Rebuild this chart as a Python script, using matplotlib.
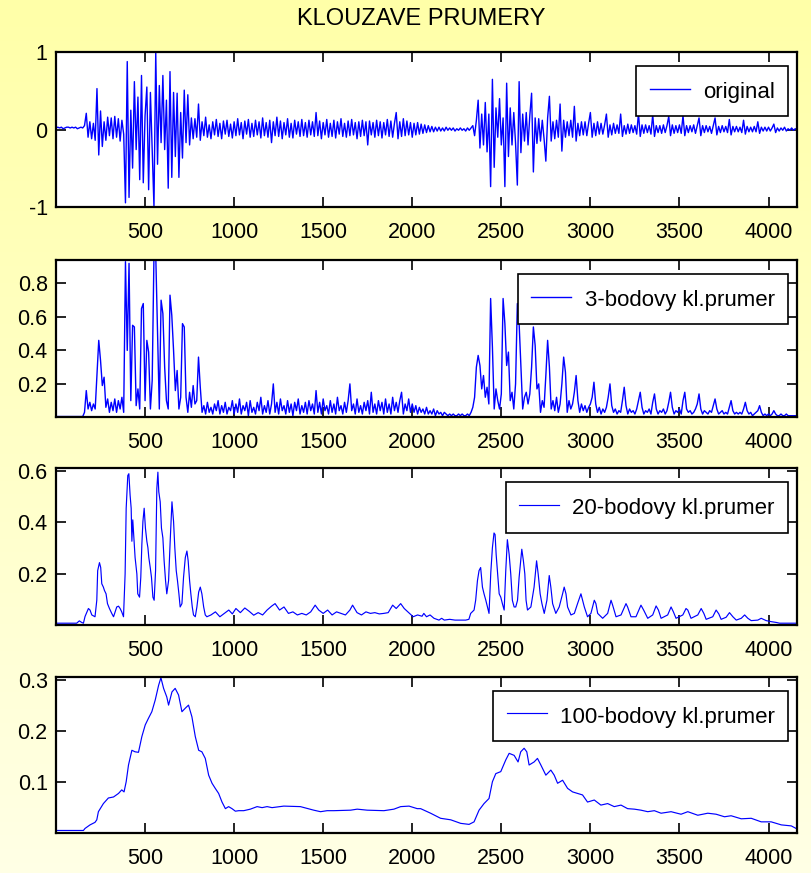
import numpy as np
import matplotlib
matplotlib.use("Agg")
import matplotlib.pyplot as plt
from matplotlib import font_manager

# sample spacing of the two densely stored traces
STEP = 10

# original signal, one value every STEP samples (0 .. 4160)
original = [
    0.02, 0.03, 0.02, 0.03, 0.01, 0.02, 0.03, 0.03, 0.02, 0.03, 0.02, 0.03, 0.01, 0.02, 0.03, 0.02, 0.05, 0.21, -0.10, 0.10,
    -0.12, 0.08, -0.14, 0.53, -0.33, 0.24, -0.22, 0.10, -0.14, 0.16, -0.08, 0.15, -0.12, 0.17, -0.10, 0.14, -0.15, 0.12, -0.06, -0.95,
    0.88, -0.88, 0.25, -0.50, 0.62, -0.26, 0.42, -0.65, 0.70, -0.69, 0.18, 0.55, -0.78, 0.48, -0.26, -1.00, 1.00, -0.45, 0.57, -0.17,
    0.70, -0.26, 0.38, -0.76, 0.75, -0.62, 0.48, -0.35, 0.47, -0.62, 0.22, -0.37, 0.51, -0.17, 0.45, -0.20, 0.15, -0.12, 0.14, -0.10,
    0.33, -0.14, 0.10, -0.08, 0.16, -0.10, 0.06, -0.12, 0.10, -0.07, 0.13, -0.09, 0.08, -0.12, 0.11, -0.06, 0.12, -0.09, 0.07, -0.11,
    0.10, -0.08, 0.14, -0.07, 0.09, -0.12, 0.11, -0.06, 0.13, -0.10, 0.08, -0.09, 0.12, -0.07, 0.10, -0.11, 0.15, -0.08, 0.09, -0.10,
    0.12, -0.17, 0.10, -0.08, 0.16, -0.09, 0.11, -0.12, 0.09, -0.07, 0.14, -0.10, 0.08, -0.11, 0.12, -0.06, 0.10, -0.09, 0.13, -0.08,
    0.09, -0.10, 0.12, -0.07, 0.10, -0.09, 0.22, -0.08, 0.11, -0.12, 0.09, -0.07, 0.13, -0.10, 0.08, -0.09, 0.12, -0.11, 0.10, -0.06,
    0.14, -0.09, 0.08, -0.10, 0.11, -0.08, 0.13, -0.07, 0.09, -0.12, 0.10, -0.09, 0.12, -0.08, 0.10, -0.20, 0.11, -0.07, 0.09, -0.10,
    0.12, -0.08, 0.10, -0.11, 0.09, -0.07, 0.13, -0.09, 0.11, -0.10, 0.08, 0.22, -0.12, 0.10, -0.09, 0.14, -0.08, 0.11, -0.07, 0.09,
    -0.10, 0.08, -0.07, 0.09, -0.06, 0.07, -0.05, 0.06, -0.04, 0.05, -0.03, 0.04, -0.03, 0.03, -0.02, 0.03, -0.02, 0.02, -0.02, 0.03,
    -0.01, 0.02, -0.01, 0.02, -0.02, 0.01, -0.01, 0.02, -0.01, 0.01, -0.02, 0.02, -0.01, 0.02, 0.05, -0.08, 0.12, 0.38, -0.24, 0.20,
    -0.20, 0.35, -0.29, 0.20, -0.74, 0.65, -0.49, 0.28, -0.10, 0.40, -0.20, 0.15, -0.74, 0.60, -0.35, 0.28, -0.20, 0.22, -0.18, -0.72,
    0.62, -0.30, 0.20, -0.15, 0.22, -0.20, 0.18, 0.47, -0.55, 0.15, -0.18, 0.14, -0.15, 0.12, -0.12, -0.41, 0.15, 0.43, -0.15, 0.10,
    -0.12, 0.12, -0.10, 0.33, -0.28, 0.12, -0.10, 0.10, -0.08, 0.12, -0.10, 0.30, -0.15, 0.08, -0.08, 0.10, -0.07, 0.10, -0.08, 0.08,
    0.22, -0.10, 0.08, -0.08, 0.10, -0.06, 0.08, -0.06, 0.06, 0.20, -0.10, 0.06, -0.07, 0.08, -0.05, 0.06, -0.05, 0.20, -0.09, 0.05,
    -0.06, 0.07, -0.05, 0.06, -0.04, 0.05, -0.06, 0.21, -0.09, 0.06, -0.05, 0.06, -0.04, 0.05, -0.06, 0.19, -0.09, 0.05, -0.04, 0.05,
    -0.05, 0.06, -0.04, 0.05, 0.17, -0.08, 0.06, -0.05, 0.05, -0.04, 0.06, -0.05, 0.18, -0.08, 0.05, -0.04, 0.05, -0.03, 0.06, -0.05,
    0.05, 0.15, -0.08, 0.05, -0.04, 0.05, -0.03, 0.04, -0.05, 0.05, 0.15, -0.07, 0.04, -0.04, 0.05, -0.03, 0.04, -0.04, 0.13, -0.07,
    0.04, -0.03, 0.04, -0.03, 0.03, -0.04, 0.12, -0.06, 0.04, -0.03, 0.03, -0.03, 0.04, -0.03, 0.10, -0.05, 0.03, -0.02, 0.03, -0.02,
    0.03, -0.02, 0.02, 0.07, -0.04, 0.02, -0.02, 0.02, -0.01, 0.03, -0.02, 0.01, -0.01, 0.02, -0.01, 0.01, 0.00,
]

# 3-point moving average, same sampling as the original
ma3 = [
    0.005, 0.005, 0.005, 0.005, 0.005, 0.005, 0.005, 0.005, 0.005, 0.005, 0.005, 0.005, 0.005, 0.005, 0.005, 0.005, 0.03, 0.16, 0.05, 0.09,
    0.04, 0.08, 0.05, 0.25, 0.46, 0.34, 0.19, 0.24, 0.06, 0.11, 0.03, 0.09, 0.04, 0.11, 0.03, 0.10, 0.05, 0.12, 0.03, 0.93,
    0.40, 0.92, 0.10, 0.55, 0.54, 0.07, 0.17, 0.05, 0.65, 0.68, 0.10, 0.46, 0.39, 0.05, 0.22, 0.97, 0.97, 0.52, 0.05, 0.70,
    0.62, 0.30, 0.10, 0.05, 0.73, 0.61, 0.40, 0.16, 0.28, 0.05, 0.12, 0.56, 0.54, 0.12, 0.03, 0.15, 0.06, 0.19, 0.08, 0.10,
    0.36, 0.18, 0.03, 0.07, 0.02, 0.09, 0.03, 0.06, 0.02, 0.08, 0.04, 0.10, 0.02, 0.07, 0.03, 0.09, 0.02, 0.06, 0.04, 0.10,
    0.02, 0.08, 0.03, 0.11, 0.02, 0.07, 0.04, 0.09, 0.01, 0.10, 0.03, 0.06, 0.02, 0.09, 0.04, 0.12, 0.02, 0.07, 0.03, 0.10,
    0.02, 0.08, 0.20, 0.03, 0.09, 0.02, 0.11, 0.04, 0.07, 0.02, 0.10, 0.03, 0.08, 0.01, 0.09, 0.04, 0.11, 0.02, 0.07, 0.03,
    0.09, 0.02, 0.10, 0.04, 0.08, 0.02, 0.16, 0.03, 0.09, 0.02, 0.11, 0.04, 0.07, 0.02, 0.10, 0.03, 0.08, 0.02, 0.12, 0.04,
    0.07, 0.02, 0.09, 0.03, 0.10, 0.20, 0.04, 0.08, 0.02, 0.11, 0.03, 0.07, 0.02, 0.09, 0.04, 0.10, 0.02, 0.15, 0.03, 0.08,
    0.02, 0.10, 0.04, 0.09, 0.02, 0.11, 0.03, 0.08, 0.02, 0.12, 0.04, 0.09, 0.03, 0.10, 0.15, 0.02, 0.08, 0.04, 0.11, 0.03,
    0.08, 0.03, 0.07, 0.02, 0.06, 0.03, 0.05, 0.02, 0.06, 0.02, 0.04, 0.02, 0.05, 0.01, 0.04, 0.02, 0.03, 0.01, 0.03, 0.02,
    0.01, 0.02, 0.01, 0.02, 0.01, 0.01, 0.02, 0.01, 0.02, 0.01, 0.01, 0.02, 0.01, 0.03, 0.06, 0.12, 0.30, 0.37, 0.31, 0.17,
    0.25, 0.12, 0.18, 0.08, 0.71, 0.42, 0.05, 0.17, 0.10, 0.05, 0.14, 0.71, 0.56, 0.31, 0.39, 0.10, 0.15, 0.05, 0.20, 0.68,
    0.56, 0.30, 0.05, 0.12, 0.15, 0.08, 0.14, 0.30, 0.54, 0.43, 0.17, 0.20, 0.03, 0.10, 0.06, 0.25, 0.46, 0.30, 0.05, 0.10,
    0.04, 0.12, 0.03, 0.08, 0.20, 0.36, 0.27, 0.03, 0.10, 0.05, 0.08, 0.15, 0.25, 0.10, 0.03, 0.08, 0.04, 0.07, 0.03, 0.06,
    0.08, 0.12, 0.21, 0.08, 0.03, 0.06, 0.02, 0.05, 0.03, 0.06, 0.12, 0.20, 0.07, 0.03, 0.05, 0.02, 0.04, 0.03, 0.10, 0.18,
    0.07, 0.02, 0.05, 0.03, 0.04, 0.02, 0.05, 0.10, 0.15, 0.06, 0.02, 0.04, 0.03, 0.05, 0.02, 0.09, 0.14, 0.05, 0.02, 0.04,
    0.03, 0.05, 0.02, 0.04, 0.09, 0.15, 0.06, 0.02, 0.04, 0.03, 0.05, 0.02, 0.10, 0.15, 0.05, 0.03, 0.04, 0.02, 0.03, 0.05,
    0.08, 0.14, 0.05, 0.02, 0.04, 0.03, 0.02, 0.04, 0.03, 0.07, 0.11, 0.05, 0.02, 0.03, 0.04, 0.02, 0.03, 0.02, 0.06, 0.10,
    0.04, 0.02, 0.03, 0.02, 0.03, 0.02, 0.05, 0.09, 0.04, 0.02, 0.03, 0.01, 0.02, 0.03, 0.04, 0.07, 0.03, 0.01, 0.02, 0.01,
    0.02, 0.01, 0.02, 0.04, 0.02, 0.01, 0.01, 0.02, 0.01, 0.01, 0.02, 0.01, 0.01, 0.01, 0.01, 0.01, 0.01,
]

# 20-point moving average: (sample, value) vertices
ma20 = [
    (0, 0.009), (116, 0.009), (131, 0.018), (144, 0.012), (154, 0.009), (163, 0.035), (182, 0.066), (191, 0.060),
    (201, 0.041), (219, 0.034), (229, 0.098), (234, 0.213), (244, 0.244), (251, 0.225), (257, 0.162), (266, 0.149),
    (272, 0.136), (281, 0.123), (289, 0.085), (300, 0.066), (313, 0.047), (323, 0.034), (332, 0.053), (341, 0.072),
    (351, 0.075), (360, 0.066), (369, 0.053), (379, 0.034), (388, 0.200), (394, 0.455), (403, 0.582), (409, 0.589),
    (416, 0.506), (422, 0.455), (426, 0.327), (431, 0.410), (435, 0.366), (444, 0.264), (454, 0.200), (459, 0.123),
    (469, 0.110), (476, 0.187), (482, 0.315), (488, 0.404), (495, 0.455), (502, 0.378), (510, 0.327), (516, 0.302),
    (521, 0.264), (529, 0.225), (536, 0.187), (544, 0.110), (551, 0.098), (559, 0.213), (566, 0.531), (572, 0.595),
    (577, 0.519), (585, 0.480), (592, 0.378), (600, 0.340), (607, 0.251), (615, 0.174), (622, 0.123), (632, 0.174),
    (641, 0.327), (651, 0.480), (660, 0.404), (667, 0.302), (675, 0.213), (682, 0.174), (690, 0.123), (697, 0.072),
    (707, 0.085), (716, 0.187), (726, 0.264), (735, 0.289), (742, 0.251), (750, 0.174), (757, 0.123), (765, 0.072),
    (772, 0.041), (782, 0.034), (791, 0.072), (801, 0.130), (810, 0.149), (819, 0.123), (829, 0.072), (838, 0.041),
    (847, 0.034), (870, 0.041), (895, 0.053), (920, 0.034), (945, 0.047), (970, 0.060), (990, 0.045), (1010, 0.066),
    (1035, 0.050), (1060, 0.068), (1085, 0.055), (1110, 0.040), (1135, 0.050), (1160, 0.041), (1185, 0.060), (1210, 0.075),
    (1230, 0.085), (1255, 0.060), (1280, 0.072), (1305, 0.047), (1330, 0.053), (1355, 0.041), (1380, 0.047), (1405, 0.041),
    (1430, 0.053), (1455, 0.079), (1475, 0.060), (1500, 0.047), (1525, 0.060), (1550, 0.041), (1575, 0.053), (1600, 0.047),
    (1625, 0.041), (1650, 0.060), (1665, 0.079), (1690, 0.050), (1715, 0.041), (1740, 0.053), (1765, 0.047), (1790, 0.050),
    (1815, 0.045), (1840, 0.047), (1865, 0.050), (1890, 0.079), (1910, 0.066), (1935, 0.085), (1955, 0.066), (1980, 0.050),
    (2005, 0.034), (2030, 0.041), (2055, 0.036), (2065, 0.047), (2080, 0.034), (2100, 0.041), (2122, 0.028), (2150, 0.021),
    (2165, 0.028), (2180, 0.021), (2210, 0.024), (2240, 0.021), (2300, 0.021), (2318, 0.024), (2328, 0.047), (2347, 0.060),
    (2356, 0.098), (2366, 0.174), (2375, 0.213), (2384, 0.225), (2394, 0.149), (2403, 0.123), (2413, 0.098), (2422, 0.072),
    (2431, 0.047), (2441, 0.206), (2450, 0.302), (2459, 0.359), (2465, 0.353), (2471, 0.276), (2478, 0.213), (2488, 0.123),
    (2497, 0.110), (2506, 0.085), (2516, 0.060), (2525, 0.213), (2534, 0.333), (2544, 0.276), (2553, 0.200), (2562, 0.098),
    (2572, 0.072), (2581, 0.072), (2591, 0.098), (2600, 0.187), (2615, 0.296), (2624, 0.251), (2632, 0.200), (2639, 0.098),
    (2647, 0.060), (2666, 0.072), (2684, 0.149), (2698, 0.251), (2707, 0.200), (2718, 0.123), (2728, 0.085), (2741, 0.047),
    (2756, 0.098), (2769, 0.194), (2778, 0.149), (2788, 0.085), (2806, 0.047), (2825, 0.072), (2844, 0.123), (2853, 0.149),
    (2863, 0.123), (2872, 0.072), (2891, 0.041), (2910, 0.047), (2928, 0.085), (2947, 0.123), (2956, 0.098), (2966, 0.072),
    (2984, 0.034), (3003, 0.047), (3022, 0.098), (3031, 0.085), (3041, 0.047), (3069, 0.028), (3097, 0.047), (3116, 0.098),
    (3125, 0.079), (3144, 0.034), (3172, 0.041), (3200, 0.085), (3209, 0.072), (3228, 0.034), (3256, 0.034), (3284, 0.079),
    (3299, 0.060), (3322, 0.028), (3350, 0.041), (3369, 0.076), (3382, 0.060), (3397, 0.028), (3434, 0.041), (3453, 0.072),
    (3466, 0.053), (3481, 0.028), (3519, 0.041), (3537, 0.066), (3547, 0.060), (3565, 0.028), (3603, 0.041), (3622, 0.066),
    (3637, 0.047), (3650, 0.024), (3687, 0.034), (3706, 0.060), (3721, 0.045), (3734, 0.024), (3762, 0.032), (3781, 0.050),
    (3800, 0.034), (3819, 0.021), (3847, 0.028), (3866, 0.041), (3884, 0.028), (3903, 0.019), (3940, 0.021), (3959, 0.028),
    (3987, 0.019), (4015, 0.015), (4043, 0.012), (4062, 0.009), (4160, 0.009),
]

# 100-point moving average: (sample, value) vertices
ma100 = [
    (0, 0.004), (154, 0.004), (163, 0.008), (191, 0.015), (219, 0.020), (229, 0.025), (238, 0.041), (266, 0.057),
    (294, 0.068), (323, 0.070), (351, 0.077), (369, 0.084), (382, 0.080), (394, 0.100), (407, 0.133), (426, 0.162),
    (444, 0.159), (463, 0.158), (482, 0.189), (501, 0.212), (519, 0.225), (538, 0.238), (557, 0.261), (576, 0.290),
    (589, 0.305), (604, 0.284), (622, 0.267), (632, 0.251), (651, 0.277), (669, 0.284), (688, 0.271), (707, 0.238),
    (726, 0.245), (744, 0.251), (763, 0.228), (782, 0.189), (801, 0.162), (819, 0.159), (838, 0.146), (857, 0.113),
    (876, 0.097), (894, 0.087), (913, 0.077), (932, 0.060), (951, 0.047), (969, 0.051), (988, 0.047), (1007, 0.042),
    (1026, 0.043), (1054, 0.043), (1091, 0.046), (1129, 0.051), (1157, 0.049), (1185, 0.051), (1213, 0.049), (1279, 0.052),
    (1372, 0.051), (1447, 0.044), (1485, 0.041), (1522, 0.043), (1560, 0.043), (1654, 0.044), (1691, 0.046), (1747, 0.044),
    (1841, 0.043), (1897, 0.046), (1935, 0.051), (1982, 0.052), (2028, 0.047), (2047, 0.047), (2103, 0.038), (2159, 0.028),
    (2216, 0.025), (2272, 0.018), (2319, 0.016), (2347, 0.021), (2375, 0.044), (2403, 0.057), (2431, 0.067), (2450, 0.100),
    (2469, 0.116), (2497, 0.120), (2525, 0.143), (2544, 0.156), (2572, 0.152), (2594, 0.139), (2609, 0.159), (2628, 0.166),
    (2643, 0.159), (2656, 0.133), (2684, 0.139), (2703, 0.146), (2722, 0.133), (2750, 0.113), (2778, 0.123), (2797, 0.113),
    (2816, 0.097), (2844, 0.103), (2872, 0.087), (2900, 0.080), (2928, 0.077), (2956, 0.074), (2984, 0.060), (3022, 0.064),
    (3059, 0.054), (3097, 0.057), (3134, 0.051), (3172, 0.054), (3209, 0.047), (3247, 0.046), (3284, 0.044), (3322, 0.041),
    (3359, 0.043), (3397, 0.038), (3453, 0.041), (3509, 0.036), (3547, 0.041), (3603, 0.034), (3659, 0.038), (3706, 0.036),
    (3753, 0.031), (3790, 0.033), (3847, 0.027), (3903, 0.028), (3959, 0.021), (4015, 0.021), (4072, 0.015), (4128, 0.013),
    (4160, 0.007),
]

x_ticks = [500, 1000, 1500, 2000, 2500, 3000, 3500, 4000]
labels = ["original", "3-bodovy kl.prumer", "20-bodovy kl.prumer", "100-bodovy kl.prumer"]
y_limits = [(-1.0, 1.0), (0.004, 0.94), (0.002, 0.61), (0.0, 0.307)]
y_ticks = [[-1, 0, 1], [0.2, 0.4, 0.6, 0.8], [0.2, 0.4, 0.6], [0.1, 0.2, 0.3]]
y_ticklabels = [["-1", "0", "1"], ["0.2", "0.4", "0.6", "0.8"], ["0.2", "0.4", "0.6"], ["0.1", "0.2", "0.3"]]
line_widths = [1.0, 1.0, 0.85, 0.85]

# narrow Helvetica look if that face is installed, Arial metrics otherwise
installed = {f.name for f in font_manager.fontManager.ttflist}
family = "Liberation Sans Narrow" if "Liberation Sans Narrow" in installed else "Liberation Sans"
narrow = family.endswith("Narrow")
tick_size = 17 if narrow else 15.5
legend_size = 19 if narrow else 16
title_size = 19.5 if narrow else 17
plt.rcParams["font.family"] = family
plt.rcParams["axes.unicode_minus"] = False

W, H = 811, 873
fig = plt.figure(figsize=(W / 100, H / 100), dpi=100)

# pale yellow background fading downwards
bg = fig.add_axes([0, 0, 1, 1], zorder=-10)
top = np.array([1.0, 1.0, 0.66])
bottom = np.array([1.0, 1.0, 0.90])
t = np.linspace(0, 1, 256)[:, None]
grad = top + (bottom - top) * t
bg.imshow(grad[:, None, :], aspect="auto", extent=(0, 1, 0, 1))
bg.set_axis_off()

series = [
    (np.arange(len(original)) * STEP, np.array(original)),
    (np.arange(len(ma3)) * STEP, np.array(ma3)),
    (np.array([p[0] for p in ma20]), np.array([p[1] for p in ma20])),
    (np.array([p[0] for p in ma100]), np.array([p[1] for p in ma100])),
]

# panel boxes in pixels: (top, bottom)
boxes = [(52.3, 206.7), (260.0, 416.7), (468.3, 625.0), (676.7, 832.5)]
left_px, right_px = 56.0, 797.0

for i, ((xs, ys), (t_px, b_px)) in enumerate(zip(series, boxes)):
    ax = fig.add_axes([left_px / W, 1 - b_px / H, (right_px - left_px) / W, (b_px - t_px) / H])
    ax.set_facecolor("white")
    ax.plot(xs, ys, color="#0000ff", lw=line_widths[i], label=labels[i])
    ax.set_xlim(0, 4160)
    ax.set_ylim(*y_limits[i])
    ax.set_xticks(x_ticks)
    ax.set_xticklabels([str(v) for v in x_ticks])
    ax.set_yticks(y_ticks[i])
    ax.set_yticklabels(y_ticklabels[i])
    ax.tick_params(direction="in", length=7, width=1.2, top=True, right=True,
                   labelsize=tick_size, colors="black")
    ax.tick_params(axis="x", pad=11)
    ax.tick_params(axis="y", pad=6)
    for sp in ax.spines.values():
        sp.set_linewidth(1.6)
        sp.set_color("black")
    leg = ax.legend(loc="upper right", bbox_to_anchor=(0.988, 0.91), borderaxespad=0,
                    fontsize=legend_size, fancybox=False, framealpha=1, edgecolor="black",
                    handlelength=1.8, handleheight=1.15, handletextpad=0.6, borderpad=0.6)
    leg.get_frame().set_linewidth(1.2)

fig.text(0.52, 1 - 19 / H, "KLOUZAVE PRUMERY", ha="center", va="center", fontsize=title_size)

fig.savefig("out.png", dpi=100)
